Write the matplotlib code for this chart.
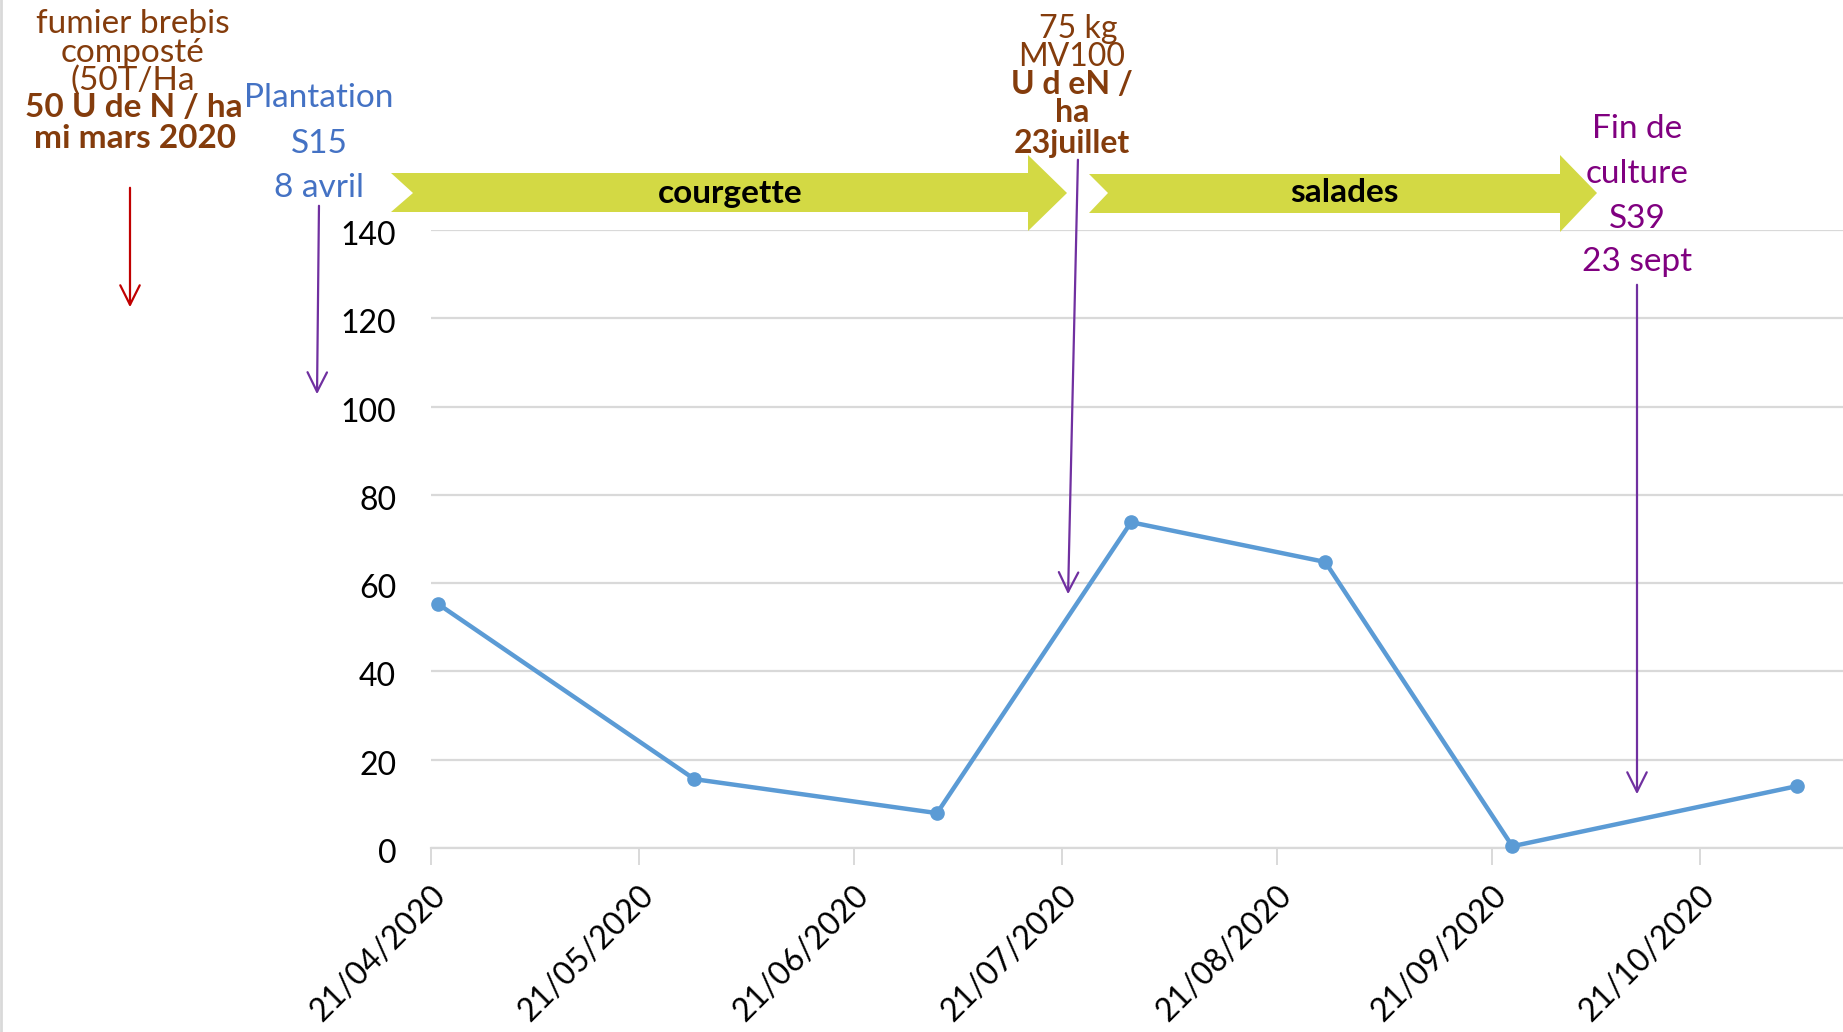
import pandas as pd
import matplotlib.pyplot as plt
import matplotlib.transforms as mtransforms
from matplotlib.patches import Polygon, FancyArrowPatch
from matplotlib.lines import Line2D

plt.rcParams['font.family'] = ['Lato', 'DejaVu Sans']

# donnees
dates = ['2020-04-22', '2020-05-29', '2020-07-03', '2020-07-31',
         '2020-08-28', '2020-09-24', '2020-11-04']
valeurs = [55.3, 15.6, 7.9, 73.8, 64.8, 0.4, 14.0]
tick_dates = ['2020-04-21', '2020-05-21', '2020-06-21', '2020-07-21',
              '2020-08-21', '2020-09-21', '2020-10-21']
tick_labels = ['21/04/2020', '21/05/2020', '21/06/2020', '21/07/2020',
               '21/08/2020', '21/09/2020', '21/10/2020']
y_ticks = [0, 20, 40, 60, 80, 100, 120, 140]

# textes des annotations
fumier = ['fumier brebis', 'composté', '(50T/Ha', '50 U de N / ha', 'mi mars 2020']
plantation = ['Plantation', 'S15', '8 avril']
apport = ['75 kg', 'MV100', 'U d eN /', 'ha', '23juillet']
fin = ['Fin de', 'culture', 'S39', '23 sept']
cultures = ['courgette', 'salades']

W, H = 1843, 1032
def fx(x):
    return x / W
def fy(y):
    return 1 - y / H

fig = plt.figure(figsize=(W / 100, H / 100), dpi=100)
ax = fig.add_axes([fx(431), fy(848), 1 - fx(431), (848 - 230) / H])

ax.plot(pd.to_datetime(dates), valeurs, color='#5B9BD5', lw=3.2,
        marker='o', ms=9.5, clip_on=False, zorder=3)
ax.set_ylim(0, 140)
ax.set_xlim(pd.Timestamp('2020-04-21'), pd.Timestamp('2020-04-21') + pd.Timedelta(days=203.7))
ax.set_yticks(y_ticks)
ax.set_xticks(pd.to_datetime(tick_dates))
ax.set_xticklabels(tick_labels, rotation=45, ha='right', rotation_mode='anchor')
ax.grid(axis='y', color='#d9d9d9', lw=1.6)
ax.set_axisbelow(True)
for s in ['left', 'top', 'right']:
    ax.spines[s].set_visible(False)
ax.spines['bottom'].set_color('#d9d9d9')
ax.spines['bottom'].set_linewidth(1.6)
ax.tick_params(axis='x', length=12, width=1.4, color='#d9d9d9', labelsize=23, pad=11)
ax.tick_params(axis='y', length=0, labelsize=23, pad=25)
off = mtransforms.ScaledTranslation(0.0, -0.03, fig.dpi_scale_trans)
for lab in ax.get_yticklabels():
    lab.set_transform(lab.get_transform() + off)

# bordure gauche
fig.add_artist(Line2D([0.0008, 0.0008], [0, 1], color='#d9d9d9', lw=2, transform=fig.transFigure))

# fleches vertes des cultures
def fleche(x0, xn, xh, xt, top, bot, htop, hbot, mid):
    pts = [(x0, top), (xh, top), (xh, htop), (xt, mid), (xh, hbot), (xh, bot), (x0, bot), (xn, mid)]
    fig.add_artist(Polygon([(fx(a), fy(b)) for a, b in pts], closed=True,
                           facecolor='#D3D944', edgecolor='none', transform=fig.transFigure))

fleche(391, 413, 1028, 1067, 173, 212, 155, 231, 193)
fleche(1089, 1108, 1560, 1597, 174, 213, 155, 232, 193)
fig.text(fx(730), fy(193), cultures[0], ha='center', va='center', fontsize=24, weight='bold')
fig.text(fx(1344), fy(193), cultures[1], ha='center', va='center', fontsize=24, weight='bold')

# textes
brun = '#843C0C'
for t, x, y, w in zip(fumier, [133, 133, 133, 134, 135], [33, 62, 90, 117, 148],
                      ['normal', 'normal', 'normal', 'bold', 'bold']):
    fig.text(fx(x), fy(y), t, ha='center', va='baseline', fontsize=24, color=brun, weight=w)
for t, y in zip(plantation, [107, 153, 197]):
    fig.text(fx(319), fy(y), t, ha='center', va='baseline', fontsize=24, color='#4472C4')
for t, x, y, w in zip(apport, [1078, 1072, 1072, 1072, 1072], [38, 66, 94, 122, 153],
                      ['normal', 'normal', 'bold', 'bold', 'bold']):
    fig.text(fx(x), fy(y), t, ha='center', va='baseline', fontsize=23, color=brun, weight=w)
for t, y in zip(fin, [138, 183, 228, 271]):
    fig.text(fx(1637), fy(y), t, ha='center', va='baseline', fontsize=24, color='#800080')

# fleches fines
def trait(x0, y0, x1, y1, c):
    fig.add_artist(FancyArrowPatch((fx(x0), fy(y0)), (fx(x1), fy(y1)), transform=fig.transFigure,
                                   arrowstyle='->,head_length=0.7,head_width=0.35',
                                   mutation_scale=20, color=c, lw=1.6))

trait(130, 185, 130, 310, '#C00000')
trait(319, 203, 317, 397, '#7030A0')
trait(1078, 157, 1068, 597, '#7030A0')
trait(1637, 282, 1637, 797, '#7030A0')

plt.savefig('out.png', dpi=100)
plt.close()
